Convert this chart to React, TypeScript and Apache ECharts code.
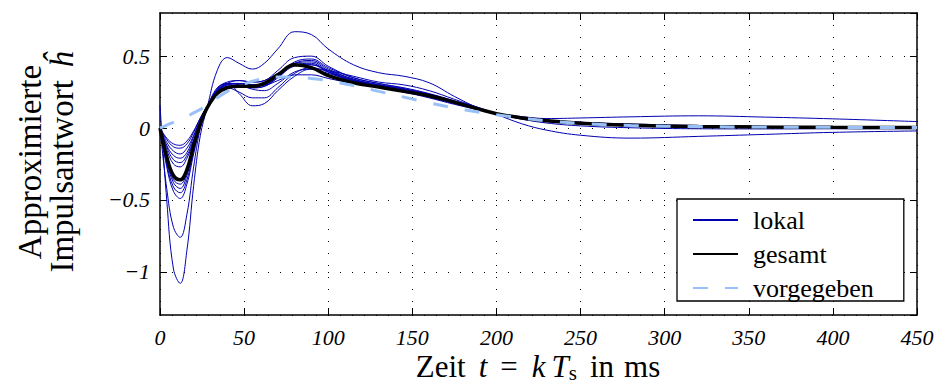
import React, { useEffect, useRef } from 'react';
import * as echarts from 'echarts';

// time grid in ms
const T = [0, 4, 8, 12, 16, 20, 24, 28, 34, 40, 47, 55, 62, 70, 80, 90, 100, 115, 130, 145, 160, 175, 190, 200, 215, 230, 250, 280, 320, 360, 400, 450];

// x tick labels
const X_TICKS = [0, 50, 100, 150, 200, 250, 300, 350, 400, 450];

const GESAMT = [0, -0.2, -0.33, -0.36, -0.29, -0.12, 0.03, 0.14, 0.24, 0.28, 0.29, 0.29, 0.31, 0.37, 0.44, 0.42, 0.365, 0.315, 0.285, 0.255, 0.225, 0.18, 0.13, 0.1, 0.07, 0.05, 0.034, 0.02, 0.011, 0.007, 0.005, 0.004];
const VORGEGEBEN = [0, 0.02, 0.04, 0.06, 0.08, 0.105, 0.13, 0.16, 0.21, 0.255, 0.295, 0.325, 0.345, 0.355, 0.355, 0.345, 0.33, 0.295, 0.255, 0.215, 0.175, 0.14, 0.11, 0.093, 0.07, 0.05, 0.032, 0.018, 0.01, 0.007, 0.005, 0.003];

const L1 = [0, -0.07, -0.11, -0.12, -0.09, -0.02, 0.07, 0.15, 0.25, 0.3, 0.31, 0.3, 0.3, 0.33, 0.37, 0.37, 0.345, 0.31, 0.285, 0.26, 0.225, 0.18, 0.13, 0.1, 0.08, 0.066, 0.07, 0.078, 0.085, 0.076, 0.064, 0.045];
const L2 = [0, -0.08, -0.13, -0.14, -0.11, -0.03, 0.07, 0.15, 0.25, 0.31, 0.33, 0.32, 0.33, 0.38, 0.44, 0.44, 0.39, 0.335, 0.3, 0.27, 0.235, 0.185, 0.135, 0.1, 0.07, 0.05, 0.035, 0.022, 0.013, 0.01, 0.008, 0.006];
const L3 = [0, -0.1, -0.16, -0.18, -0.14, -0.05, 0.06, 0.15, 0.26, 0.31, 0.3, 0.27, 0.26, 0.31, 0.39, 0.41, 0.38, 0.33, 0.3, 0.27, 0.23, 0.18, 0.13, 0.1, 0.07, 0.048, 0.03, 0.018, 0.01, 0.006, 0.004, 0.003];
const L4 = [0, -0.12, -0.19, -0.21, -0.17, -0.06, 0.05, 0.15, 0.25, 0.29, 0.29, 0.28, 0.29, 0.35, 0.43, 0.44, 0.4, 0.34, 0.3, 0.27, 0.235, 0.185, 0.135, 0.1, 0.068, 0.048, 0.032, 0.02, 0.012, 0.008, 0.006, 0.005];
const L5 = [0, -0.13, -0.22, -0.24, -0.19, -0.08, 0.04, 0.14, 0.25, 0.3, 0.3, 0.29, 0.3, 0.36, 0.45, 0.46, 0.4, 0.33, 0.29, 0.26, 0.225, 0.175, 0.13, 0.1, 0.072, 0.052, 0.036, 0.024, 0.015, 0.01, 0.007, 0.005];
const L6 = [0, -0.15, -0.25, -0.27, -0.21, -0.09, 0.04, 0.14, 0.26, 0.31, 0.31, 0.3, 0.31, 0.37, 0.46, 0.48, 0.42, 0.35, 0.31, 0.28, 0.24, 0.19, 0.14, 0.1, 0.07, 0.05, 0.034, 0.02, 0.012, 0.008, 0.006, 0.004];
const L7 = [0, -0.22, -0.36, -0.39, -0.31, -0.14, 0.02, 0.14, 0.26, 0.3, 0.29, 0.28, 0.29, 0.35, 0.44, 0.45, 0.39, 0.32, 0.285, 0.25, 0.21, 0.165, 0.125, 0.1, 0.075, 0.055, 0.04, 0.025, 0.015, 0.01, 0.007, 0.005];
const L8 = [0, -0.23, -0.38, -0.42, -0.33, -0.15, 0.02, 0.14, 0.25, 0.28, 0.25, 0.21, 0.21, 0.28, 0.38, 0.42, 0.39, 0.33, 0.29, 0.255, 0.215, 0.17, 0.13, 0.1, 0.073, 0.054, 0.04, 0.028, 0.018, 0.012, 0.009, 0.007];
const L9 = [0, -0.25, -0.41, -0.45, -0.36, -0.16, 0.01, 0.14, 0.27, 0.32, 0.33, 0.32, 0.33, 0.4, 0.49, 0.5, 0.43, 0.35, 0.31, 0.275, 0.235, 0.185, 0.135, 0.1, 0.068, 0.045, 0.028, 0.015, 0.008, 0.005, 0.003, 0.002];
const L10 = [0, -0.27, -0.44, -0.49, -0.39, -0.18, 0.01, 0.14, 0.27, 0.31, 0.31, 0.3, 0.3, 0.36, 0.45, 0.47, 0.41, 0.34, 0.3, 0.27, 0.23, 0.18, 0.135, 0.1, 0.07, 0.05, 0.033, 0.02, 0.012, 0.008, 0.006, 0.005];
const L11 = [0, -0.42, -0.69, -0.76, -0.6, -0.27, 0, 0.14, 0.28, 0.31, 0.24, 0.155, 0.17, 0.26, 0.36, 0.41, 0.4, 0.36, 0.32, 0.3, 0.26, 0.2, 0.14, 0.1, 0.062, 0.035, 0.015, 0.002, -0.005, -0.006, -0.005, -0.004];
const L12 = [0.16, -0.5, -0.98, -1.08, -0.85, -0.4, -0.05, 0.14, 0.4, 0.49, 0.45, 0.41, 0.45, 0.55, 0.67, 0.65, 0.55, 0.44, 0.385, 0.36, 0.315, 0.22, 0.135, 0.095, 0.03, -0.015, -0.05, -0.07, -0.058, -0.044, -0.03, -0.02];
const LOKAL = [L1, L2, L3, L4, L5, L6, L7, L8, L9, L10, L11, L12];

const LEGEND_NAMES = ['lokal', 'gesamt', 'vorgegeben'];

const SERIF = 'Liberation Serif';
const BLUE = '#0000b0';
const LIGHT = '#99c0f7';

export default function App() {
  const ref = useRef<HTMLDivElement>(null);
  useEffect(() => {
    document.body.style.margin = '0';
    const chart = echarts.init(ref.current!, null, { renderer: 'svg' });
    const pairs = (vals: number[]) => T.map((t, i) => [t, vals[i]]);
    const lokalSeries = LOKAL.map((vals) => ({
      type: 'line',
      name: LEGEND_NAMES[0],
      data: pairs(vals),
      symbol: 'none',
      smooth: 0.4,
      lineStyle: { color: BLUE, width: 1 },
      itemStyle: { color: BLUE },
      z: 2,
    }));
    const frameLine = { show: true, onZero: false, lineStyle: { color: '#000', width: 1.5 } };
    const tick = { show: true, inside: true, length: 7, lineStyle: { color: '#000', width: 1 } };
    const grid = { show: true, lineStyle: { color: '#000', width: 1, type: [1, 11] } };
    const yFmt = (v: number) => (v < 0 ? '\u2212' + String(Math.abs(v)) : String(v));
    const it = { fontFamily: SERIF, fontSize: 31, fontStyle: 'italic', fill: '#000' };
    const rm = { fontFamily: SERIF, fontSize: 31, fill: '#000' };
    chart.setOption({
      animation: false,
      textStyle: { fontFamily: SERIF },
      grid: { left: 160, right: 20, top: 13, bottom: 70 },
      xAxis: [
        {
          type: 'value', min: X_TICKS[0], max: X_TICKS[X_TICKS.length - 1], interval: 50, position: 'bottom',
          axisLine: frameLine, axisTick: tick,
          axisLabel: { fontFamily: SERIF, fontStyle: 'italic', fontSize: 22, color: '#000', margin: 11 },
          splitLine: grid,
        },
        {
          type: 'value', min: X_TICKS[0], max: X_TICKS[X_TICKS.length - 1], interval: 50, position: 'top',
          axisLine: frameLine, axisTick: tick, axisLabel: { show: false }, splitLine: { show: false },
        },
      ],
      yAxis: [
        {
          type: 'value', min: -1.3, max: 0.8, splitNumber: 4, position: 'left',
          axisLine: frameLine, axisTick: tick,
          axisLabel: { fontFamily: SERIF, fontStyle: 'italic', fontSize: 22, color: '#000', margin: 10, showMinLabel: false, showMaxLabel: false, formatter: yFmt },
          splitLine: grid,
        },
        {
          type: 'value', min: -1.3, max: 0.8, splitNumber: 4, position: 'right',
          axisLine: frameLine, axisTick: tick, axisLabel: { show: false }, splitLine: { show: false },
        },
      ],
      legend: {
        data: LEGEND_NAMES,
        orient: 'vertical',
        left: 677,
        top: 199,
        padding: [8, 30, 0, 15],
        itemWidth: 45,
        itemHeight: 14,
        itemGap: 8,
        itemStyle: { opacity: 0 },
        backgroundColor: '#fff',
        borderColor: '#000',
        borderWidth: 1.3,
        borderRadius: 0,
        textStyle: { fontFamily: SERIF, fontSize: 26, color: '#000', padding: [0, 0, 0, 10] },
        z: 10,
      },
      graphic: [
        {
          type: 'text', x: 30, y: 162, rotation: Math.PI / 2,
          style: { text: 'Approximierte', fontFamily: SERIF, fontSize: 33, fill: '#000', align: 'center', verticalAlign: 'middle' },
        },
        {
          type: 'text', x: 62, y: 162, rotation: Math.PI / 2,
          style: {
            text: 'Impulsantwort {i|\u0125}', fontFamily: SERIF, fontSize: 33, fill: '#000', align: 'center', verticalAlign: 'middle',
            rich: { i: { fontFamily: SERIF, fontSize: 33, fontStyle: 'italic', fill: '#000', padding: [0, 0, 0, 4] } },
          },
        },
        {
          type: 'text', x: 538, y: 366,
          style: {
            text: '{r|Zeit}{t|t}{eq|=}{k|k}{T|T}{s|s}{in|in}{ms|ms}', fontFamily: SERIF, fontSize: 31, fill: '#000', align: 'center', verticalAlign: 'middle',
            rich: {
              r: rm,
              t: { ...it, padding: [0, 0, 0, 13] },
              eq: { ...rm, padding: [0, 0, 0, 13] },
              k: { ...it, padding: [0, 0, 0, 14] },
              T: { ...it, padding: [0, 0, 0, 6] },
              s: { fontFamily: SERIF, fontSize: 21, fill: '#000', padding: [13, 0, 0, 0] },
              in: { ...rm, padding: [0, 0, 0, 13] },
              ms: { ...rm, padding: [0, 0, 0, 10] },
            },
          },
        },
      ],
      series: [
        ...lokalSeries,
        {
          type: 'line', name: LEGEND_NAMES[1], data: pairs(GESAMT), symbol: 'none', smooth: 0.4,
          lineStyle: { color: '#000', width: 3.5 }, itemStyle: { color: '#000' }, z: 3,
        },
        {
          type: 'line', name: LEGEND_NAMES[2], data: pairs(VORGEGEBEN), symbol: 'none', smooth: 0.4,
          lineStyle: { color: LIGHT, width: 3, type: [15, 17] }, itemStyle: { color: LIGHT }, z: 4,
        },
      ],
    });
    return () => chart.dispose();
  }, []);
  return <div ref={ref} style={{ width: 937, height: 385 }} />;
}
